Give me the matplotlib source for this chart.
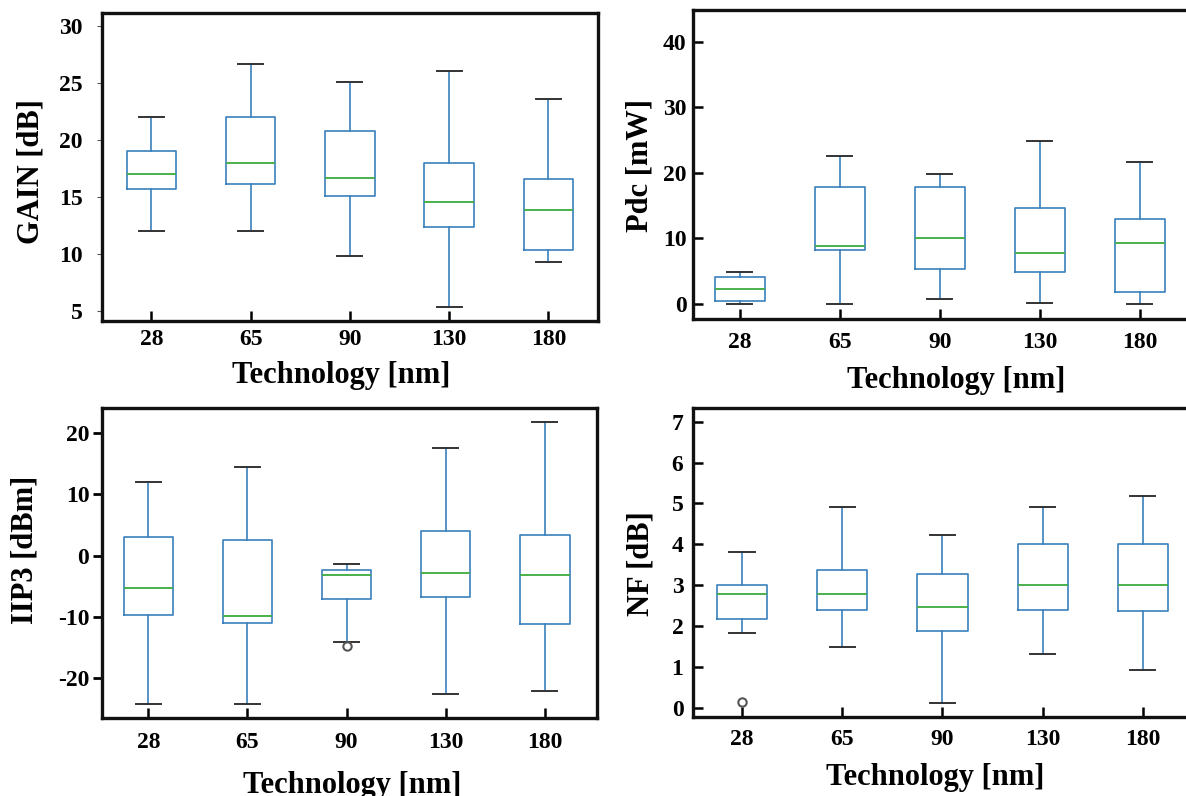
import matplotlib
matplotlib.use("Agg")
import matplotlib.pyplot as plt

plt.rcParams["font.family"] = ["Liberation Serif", "DejaVu Serif"]
plt.rcParams["font.weight"] = "bold"

W, H = 1186, 796

tech = ["28", "65", "90", "130", "180"]

# five-number summaries per technology node
gain_lo = [12.0, 12.0, 9.8, 5.3, 9.3]
gain_q1 = [15.7, 16.1, 15.1, 12.4, 10.3]
gain_med = [17.0, 18.0, 16.7, 14.6, 13.9]
gain_q3 = [19.0, 22.0, 20.8, 18.0, 16.6]
gain_hi = [22.0, 26.7, 25.1, 26.1, 23.6]
gain_fl = [[], [], [], [], []]

pdc_lo = [0.0, 0.0, 0.7, 0.2, 0.0]
pdc_q1 = [0.4, 8.2, 5.4, 4.8, 1.8]
pdc_med = [2.2, 8.9, 10.0, 7.8, 9.3]
pdc_q3 = [4.1, 17.9, 17.9, 14.6, 12.9]
pdc_hi = [4.8, 22.6, 19.8, 24.8, 21.7]
pdc_fl = [[], [], [], [], []]

iip3_lo = [-24.1, -24.1, -14.0, -22.5, -22.0]
iip3_q1 = [-9.7, -10.9, -7.1, -6.8, -11.1]
iip3_med = [-5.2, -9.9, -3.2, -2.8, -3.1]
iip3_q3 = [3.0, 2.6, -2.3, 4.0, 3.3]
iip3_hi = [12.0, 14.4, -1.3, 17.6, 21.8]
iip3_fl = [[], [], [-14.7], [], []]

nf_lo = [1.84, 1.49, 0.11, 1.31, 0.92]
nf_q1 = [2.18, 2.40, 1.87, 2.40, 2.36]
nf_med = [2.79, 2.79, 2.47, 3.00, 3.00]
nf_q3 = [3.00, 3.38, 3.27, 4.01, 4.01]
nf_hi = [3.80, 4.91, 4.22, 4.91, 5.19]
nf_fl = [[0.15], [], [], [], []]

BOX_C = "#3a80bd"
MED_C = "#3cab3c"
CAP_C = "#333333"


def px_axes(fig, x0, y0, x1, y1):
    # pixel box (top-left origin) -> figure-fraction axes
    return fig.add_axes([x0 / W, 1 - y1 / H, (x1 - x0) / W, (y1 - y0) / H])


def draw_panel(ax, lo, q1, med, q3, hi, fl, xlim, ylim, yticks):
    stats = [dict(whislo=a, q1=b, med=c, q3=d, whishi=e, fliers=f, label=t)
             for a, b, c, d, e, f, t in zip(lo, q1, med, q3, hi, fl, tech)]
    ax.bxp(stats, widths=0.5, showfliers=True,
           boxprops=dict(color=BOX_C, lw=1.2),
           whiskerprops=dict(color=BOX_C, lw=1.2),
           capprops=dict(color=CAP_C, lw=1.4),
           medianprops=dict(color=MED_C, lw=1.3),
           flierprops=dict(marker="o", markerfacecolor="none",
                           markeredgecolor="#555555", markersize=6, mew=1.5))
    ax.set_xlim(*xlim)
    ax.set_ylim(*ylim)
    ax.set_yticks(yticks)
    for s in ax.spines.values():
        s.set_linewidth(2.4)
        s.set_color("#111111")
    for lab in ax.get_xticklabels() + ax.get_yticklabels():
        lab.set_fontweight("bold")


def place_labels(ax, rect, xlab, xl_px, ylab, yl_px):
    x0, y0, x1, y1 = rect
    w, h = x1 - x0, y1 - y0
    ax.set_xlabel(xlab, fontsize=22, fontweight="bold", va="baseline")
    ax.xaxis.set_label_coords((xl_px[0] - x0) / w, (y1 - xl_px[1]) / h)
    ax.set_ylabel(ylab, fontsize=22, fontweight="bold", va="center")
    ax.yaxis.set_label_coords((yl_px[0] - x0) / w, (y1 - yl_px[1]) / h)


fig = plt.figure(figsize=(W / 100, H / 100), dpi=100)

# GAIN
r = (101.7, 12.7, 598, 321)
ax = px_axes(fig, *r)
draw_panel(ax, gain_lo, gain_q1, gain_med, gain_q3, gain_hi, gain_fl,
           (0.5, 5.5), (4.1, 31.2), [5, 10, 15, 20, 25, 30])
ax.tick_params(axis="y", direction="out", length=3.5, width=0.8, color="#555555",
               pad=10, labelsize=17)
ax.tick_params(axis="x", direction="in", length=7, width=1.8, pad=5.5, labelsize=17)
place_labels(ax, r, "Technology [nm]", (341, 383), "GAIN [dB]", (31, 172))

# Pdc
r = (692.7, 9.5, 1190, 319)
ax = px_axes(fig, *r)
draw_panel(ax, pdc_lo, pdc_q1, pdc_med, pdc_q3, pdc_hi, pdc_fl,
           (0.53, 5.5), (-2.3, 44.9), [0, 10, 20, 30, 40])
ax.tick_params(axis="y", direction="in", length=7, width=1.8, pad=4.5, labelsize=17)
ax.tick_params(axis="x", direction="in", length=7, width=1.8, pad=9, labelsize=17)
place_labels(ax, r, "Technology [nm]", (956, 388), "Pdc [mW]", (640, 166))

# IIP3
r = (101.7, 408.3, 597.3, 717.7)
ax = px_axes(fig, *r)
draw_panel(ax, iip3_lo, iip3_q1, iip3_med, iip3_q3, iip3_hi, iip3_fl,
           (0.53, 5.53), (-26.4, 24.0), [-20, -10, 0, 10, 20])
ax.set_yticklabels(["-20", "-10", "0", "10", "20"])
ax.tick_params(axis="y", direction="out", length=6.5, width=2, pad=2.4, labelsize=17)
ax.tick_params(axis="x", direction="in", length=7, width=1.8, pad=10.3, labelsize=17)
place_labels(ax, r, "Technology [nm]", (352, 793), "IIP3 [dBm]", (25, 550))

# NF
r = (692.5, 408.3, 1190, 716.7)
ax = px_axes(fig, *r)
draw_panel(ax, nf_lo, nf_q1, nf_med, nf_q3, nf_hi, nf_fl,
           (0.506, 5.47), (-0.22, 7.33), [0, 1, 2, 3, 4, 5, 6, 7])
ax.tick_params(axis="y", direction="in", length=7, width=1.8, pad=6.5, labelsize=17)
ax.tick_params(axis="x", direction="in", length=7, width=1.8, pad=9, labelsize=17)
place_labels(ax, r, "Technology [nm]", (935, 785), "NF [dB]", (641, 564))

fig.savefig("out.png", dpi=100)
